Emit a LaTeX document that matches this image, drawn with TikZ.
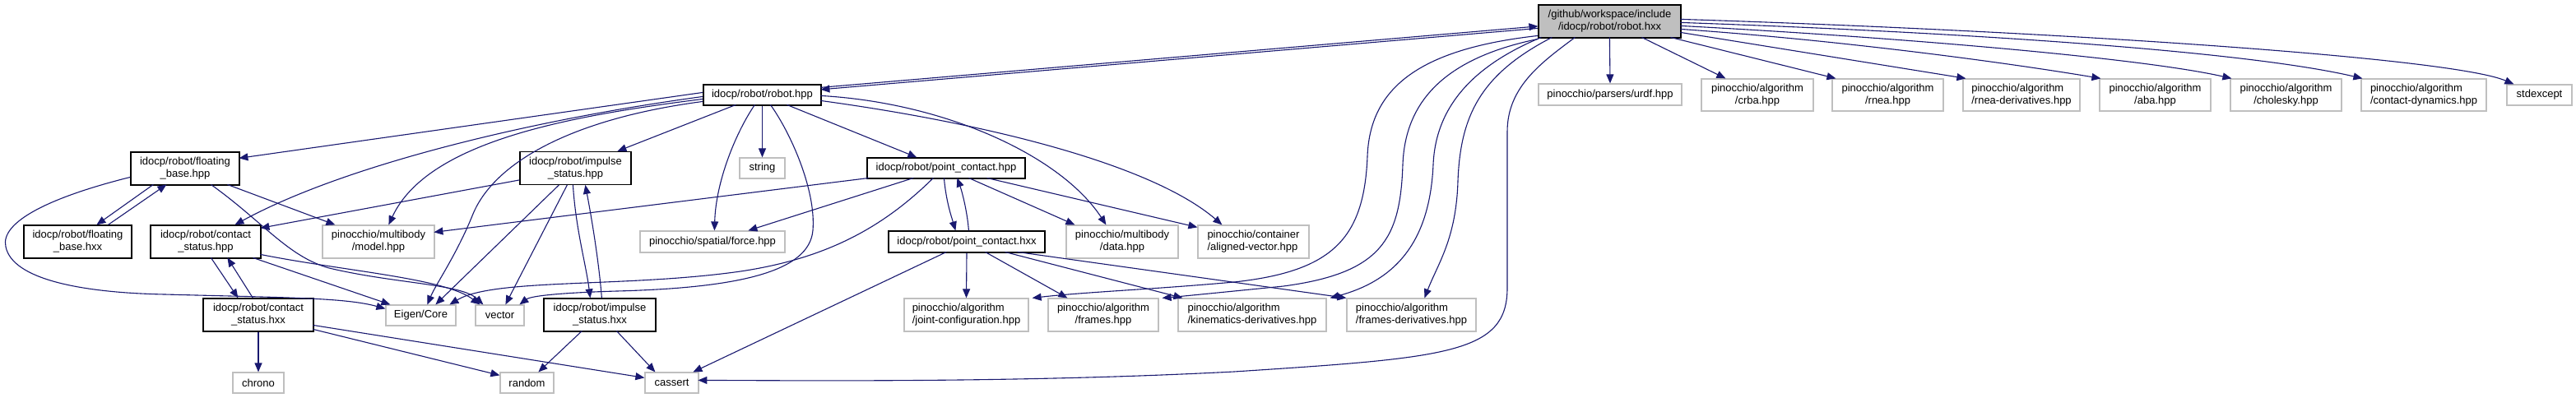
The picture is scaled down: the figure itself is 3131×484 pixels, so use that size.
\documentclass[tikz,border=0pt]{standalone}
\usepackage{fontspec}
\setmainfont{Liberation Sans}
\usetikzlibrary{arrows.meta,calc}
\definecolor{edgeblue}{RGB}{25,25,112}
\definecolor{lgray}{RGB}{191,191,191}
\begin{document}
\begin{tikzpicture}[x=1pt,y=-1pt,
  box/.style={draw=black, line width=1.2pt, inner sep=0pt, font=\fontsize{13}{15}\selectfont, align=center},
  ext/.style={box, draw=lgray},
  cur/.style={box, fill=lgray},
  dep/.style={draw=edgeblue, line width=1.1pt, -{Triangle[length=11pt,width=9pt]}}]
\fill[white] (0,0) rectangle (3131,484);
\useasboundingbox (0,0) rectangle (3131,484);

% row 0
\node[cur, minimum width=173pt, minimum height=40pt] (robothxx) at (1956.5,26) {/github/workspace/include\\/idocp/robot/robot.hxx};
% row 1
\node[box, minimum width=143pt, minimum height=25pt] (robothpp) at (926.5,115.5) {idocp/robot/robot.hpp};
\node[ext, minimum width=174pt, minimum height=26pt] (urdf) at (1957,115) {pinocchio/parsers/urdf.hpp};
\node[ext, minimum width=136pt, minimum height=39pt] (crba) at (2136,115.5) {pinocchio/algorithm\\/crba.hpp};
\node[ext, minimum width=135pt, minimum height=39pt] (rnea) at (2294.5,115.5) {pinocchio/algorithm\\/rnea.hpp};
\node[ext, minimum width=142pt, minimum height=39pt, align=left] (rnead) at (2457,115.5) {pinocchio/algorithm\\/rnea-derivatives.hpp};
\node[ext, minimum width=135pt, minimum height=39pt] (aba) at (2619.5,115.5) {pinocchio/algorithm\\/aba.hpp};
\node[ext, minimum width=135pt, minimum height=39pt] (chol) at (2778.5,115.5) {pinocchio/algorithm\\/cholesky.hpp};
\node[ext, minimum width=152pt, minimum height=39pt, align=left] (cdyn) at (2946,115.5) {pinocchio/algorithm\\/contact-dynamics.hpp};
\node[ext, minimum width=79pt, minimum height=25pt] (stdex) at (3086.5,115.5) {stdexcept};
% row 2
\node[box, minimum width=132pt, minimum height=40pt] (fbhpp) at (225,205) {idocp/robot/floating\\\_base.hpp};
\node[box, minimum width=135pt, minimum height=40pt] (imphpp) at (699.5,204.5) {idocp/robot/impulse\\\_status.hpp};
\node[ext, minimum width=55pt, minimum height=25pt] (string) at (926.5,204.5) {string};
\node[box, minimum width=192pt, minimum height=25pt] (pchpp) at (1150,204.5) {idocp/robot/point\_contact.hpp};
% row 3
\node[box, minimum width=131pt, minimum height=40pt] (fbhxx) at (94.5,294) {idocp/robot/floating\\\_base.hxx};
\node[box, minimum width=134pt, minimum height=40pt] (cshpp) at (250,294) {idocp/robot/contact\\\_status.hpp};
\node[ext, minimum width=136pt, minimum height=40pt] (model) at (460,294) {pinocchio/multibody\\/model.hpp};
\node[ext, minimum width=176pt, minimum height=26pt] (force) at (866,294) {pinocchio/spatial/force.hpp};
\node[box, minimum width=190pt, minimum height=26pt] (pchxx) at (1175,294) {idocp/robot/point\_contact.hxx};
\node[ext, minimum width=136pt, minimum height=40pt] (data) at (1364,294) {pinocchio/multibody\\/data.hpp};
\node[ext, minimum width=135pt, minimum height=40pt, align=left] (aligned) at (1523.5,294) {pinocchio/container\\/aligned-vector.hpp};
% row 4
\node[box, minimum width=134pt, minimum height=40pt] (cshxx) at (314,383) {idocp/robot/contact\\\_status.hxx};
\node[ext, minimum width=85pt, minimum height=25pt] (eigen) at (511.5,383.5) {Eigen/Core};
\node[ext, minimum width=59pt, minimum height=25pt] (vector) at (607.5,383.5) {vector};
\node[box, minimum width=136pt, minimum height=40pt] (imphxx) at (729,383) {idocp/robot/impulse\\\_status.hxx};
\node[ext, minimum width=151pt, minimum height=40pt, align=left] (joint) at (1174.5,383) {pinocchio/algorithm\\/joint-configuration.hpp};
\node[ext, minimum width=134pt, minimum height=40pt] (frames) at (1341,383) {pinocchio/algorithm\\/frames.hpp};
\node[ext, minimum width=180pt, minimum height=40pt, align=left] (kin) at (1522,383) {pinocchio/algorithm\\/kinematics-derivatives.hpp};
\node[ext, minimum width=157pt, minimum height=40pt, align=left] (framesd) at (1715.5,383) {pinocchio/algorithm\\/frames-derivatives.hpp};
% row 5
\node[ext, minimum width=62pt, minimum height=25pt] (chrono) at (314,465.5) {chrono};
\node[ext, minimum width=65pt, minimum height=25pt] (random) at (640.5,465.5) {random};
\node[ext, minimum width=65pt, minimum height=25pt] (cassert) at (816.5,465.5) {cassert};

% ---- robot.hxx edges
\draw[dep] ($(robothxx.north west)+(0,29)$) -- ($(robothpp.north west)+(143,6.5)$);
\draw[dep] ($(robothpp.north west)+(143,4)$) -- ($(robothxx.north west)+(0,26.5)$);
\draw[dep] ($(robothxx.north west)+(87,40)$) -- (urdf.north);
\draw[dep] ($(robothxx.north west)+(126,40)$) -- ($(crba.north west)+(30,0)$);
\draw[dep] ($(robothxx.north west)+(161,40)$) -- ($(rnea.north west)+(5,0)$);
\draw[dep] ($(robothxx.north west)+(173,34)$) -- ($(rnead.north west)+(4,0)$);
\draw[dep] ($(robothxx.north west)+(173,30)$) .. controls (2250,50) and (2450,78) .. ($(aba.north west)+(2,0)$);
\draw[dep] ($(robothxx.north west)+(173,26)$) .. controls (2300,45) and (2600,70) .. ($(chol.north west)+(2,0)$);
\draw[dep] ($(robothxx.north west)+(173,22)$) .. controls (2350,38) and (2720,60) .. ($(cdyn.north west)+(2,0)$);
\draw[dep] ($(robothxx.north west)+(173,18)$) .. controls (2500,38) and (2980,70) .. ($(stdex.north west)+(9,0)$);
\draw[dep] ($(robothxx.north west)+(45,40)$) .. controls (1875,75) and (1832,105) .. (1832,160) -- (1832,350) .. controls (1832,430) and (1760,435) .. (1500,452) .. controls (1250,465) and (1000,463) .. ($(cassert.north west)+(65,10)$);
\draw[dep] ($(robothxx.north west)+(0,38)$) .. controls (1720,60) and (1665,110) .. (1662,190) .. controls (1658,290) and (1620,330) .. (1500,343) .. controls (1400,352) and (1320,355) .. ($(joint.north east)+(4,0)$);
\draw[dep] ($(robothxx.north west)+(0,42)$) .. controls (1760,70) and (1708,120) .. (1705,200) .. controls (1702,290) and (1680,332) .. (1560,348) .. controls (1480,356) and (1440,360) .. ($(frames.north east)+(4,0)$);
\draw[dep] ($(robothxx.north west)+(4,40)$) .. controls (1790,80) and (1745,130) .. (1742,200) .. controls (1738,290) and (1700,340) .. ($(kin.north east)+(4,0)$);
\draw[dep] ($(robothxx.north west)+(17,40)$) .. controls (1800,90) and (1775,140) .. (1772,220) .. controls (1770,290) and (1748,320) .. ($(framesd.north west)+(95,0)$);

% ---- robot.hpp edges
\draw[dep] ($(robothpp.north west)+(0,10)$) -- ($(fbhpp.north west)+(132,8)$);
\draw[dep] ($(robothpp.north west)+(0,15)$) .. controls (650,145) and (420,200) .. ($(cshpp.north west)+(103,0)$);
\draw[dep] ($(robothpp.north west)+(0,18)$) .. controls (700,140) and (520,170) .. ($(model.north west)+(81,0)$);
\draw[dep] ($(robothpp.north west)+(0,21)$) .. controls (690,145) and (600,200) .. (575,260) .. controls (555,310) and (530,345) .. ($(eigen.north west)+(51,0)$);
\draw[dep] ($(robothpp.north west)+(40,25)$) -- ($(imphpp.north west)+(119,0)$);
\draw[dep] (robothpp.south) -- (string.north);
\draw[dep] ($(robothpp.north west)+(63,25)$) .. controls (895,160) and (870,220) .. ($(force.north west)+(91,0)$);
\draw[dep] ($(robothpp.north west)+(82,25)$) .. controls (960,160) and (992,230) .. (988,280) .. controls (984,330) and (900,350) .. (750,354) .. controls (680,356) and (645,360) .. ($(vector.north west)+(54,0)$);
\draw[dep] ($(robothpp.north west)+(102,25)$) -- ($(pchpp.north west)+(61,0)$);
\draw[dep] ($(robothpp.north west)+(143,14)$) .. controls (1150,125) and (1290,190) .. ($(data.north west)+(49,0)$);
\draw[dep] ($(robothpp.north west)+(143,20)$) .. controls (1200,150) and (1400,200) .. ($(aligned.north west)+(30,0)$);

% ---- floating_base
\draw[dep] ($(fbhpp.north west)+(28,40)$) -- ($(fbhxx.north west)+(89,0)$);
\draw[dep] ($(fbhxx.north west)+(103,0)$) -- ($(fbhpp.north west)+(44,40)$);
\draw[dep] ($(fbhpp.north west)+(118,40)$) -- ($(model.north west)+(16,0)$);
\draw[dep] ($(fbhpp.north west)+(98,40)$) .. controls (320,270) and (350,312) .. (400,326) .. controls (480,345) and (560,345) .. ($(vector.north west)+(10,0)$);
\draw[dep] ($(fbhpp.north west)+(0,31)$) .. controls (60,240) and (0,270) .. (7,300) .. controls (15,340) and (100,356) .. (200,358) .. controls (350,362) and (420,362) .. ($(eigen.north west)+(0,5)$);

% ---- contact_status
\draw[dep] ($(cshpp.north west)+(125,40)$) -- ($(eigen.north west)+(6,0)$);
\draw[dep] ($(cshpp.north west)+(134,36)$) .. controls (420,330) and (540,338) .. ($(vector.north west)+(6,0)$);
\draw[dep] ($(cshpp.north west)+(74,40)$) -- ($(cshxx.north west)+(43,0)$);
\draw[dep] ($(cshxx.north west)+(61,0)$) -- ($(cshpp.north west)+(94,40)$);
\draw[dep] (cshxx.south) -- (chrono.north);
\draw[dep] ($(cshxx.north west)+(134,38)$) -- ($(random.north west)+(0,4)$);
\draw[dep] ($(cshxx.north west)+(134,33)$) -- ($(cassert.north west)+(0,7)$);

% ---- impulse_status
\draw[dep] ($(imphpp.north west)+(0,35)$) -- ($(cshpp.north west)+(134,4)$);
\draw[dep] ($(imphpp.north west)+(48,41)$) -- ($(eigen.north west)+(61,0)$);
\draw[dep] ($(imphpp.north west)+(58,41)$) -- ($(vector.north west)+(37,0)$);
\draw[dep] ($(imphpp.north west)+(65,41)$) .. controls (700,280) and (712,320) .. ($(imphxx.north west)+(57,0)$);
\draw[dep] ($(imphxx.north west)+(71,0)$) .. controls (728,320) and (720,270) .. ($(imphpp.north west)+(80,41)$);
\draw[dep] ($(imphxx.north west)+(47,40)$) -- ($(random.north west)+(47,0)$);
\draw[dep] ($(imphxx.north west)+(89,40)$) -- ($(cassert.north west)+(13,0)$);

% ---- point_contact.hpp
\draw[dep] ($(pchpp.north west)+(3,25)$) -- ($(model.north west)+(136,9)$);
\draw[dep] ($(pchpp.north west)+(57,25)$) -- ($(force.north west)+(132,0)$);
\draw[dep] ($(pchpp.north west)+(81,25)$) .. controls (1070,280) and (1000,315) .. (900,330) .. controls (760,350) and (600,338) .. ($(eigen.north west)+(78,0)$);
\draw[dep] ($(pchpp.north west)+(94,25)$) .. controls (1150,245) and (1156,262) .. ($(pchxx.north west)+(82,0)$);
\draw[dep] ($(pchxx.north west)+(98,0)$) .. controls (1176,260) and (1170,235) .. ($(pchpp.north west)+(110,25)$);
\draw[dep] ($(pchpp.north west)+(124,25)$) -- ($(data.north west)+(11,0)$);
\draw[dep] ($(pchpp.north west)+(146,25)$) -- ($(aligned.north west)+(0,3)$);

% ---- point_contact.hxx
\draw[dep] ($(pchxx.north west)+(71,26)$) -- ($(cassert.north west)+(59,0)$);
\draw[dep] (pchxx.south) -- (joint.north);
\draw[dep] ($(pchxx.north west)+(118,26)$) -- ($(frames.north west)+(24,0)$);
\draw[dep] ($(pchxx.north west)+(142,26)$) -- ($(kin.north west)+(6,0)$);
\draw[dep] ($(pchxx.north west)+(157,26)$) -- ($(framesd.north west)+(0,0)$);
\end{tikzpicture}
\end{document}
